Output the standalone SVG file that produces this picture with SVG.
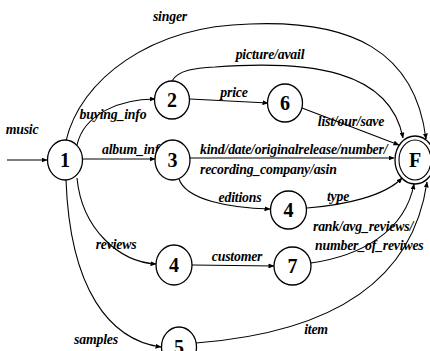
<svg xmlns="http://www.w3.org/2000/svg" width="430" height="351" viewBox="0 0 430 351">
  <style>
    .edge { fill: none; stroke: #000; stroke-width: 1.1; marker-end: url(#arrow); }
    .node { fill: #fff; stroke: #000; stroke-width: 1.3; }
    .id { font-family: "Liberation Serif", "Times New Roman", serif; font-weight: bold; font-size: 20px; text-anchor: middle; fill: #000; }
    .lbl { font-family: "Liberation Serif", "Times New Roman", serif; font-weight: bold; font-style: italic; font-size: 13.8px; fill: #000; letter-spacing: -0.2px; }
    .mid { text-anchor: middle; }
  </style>
  <defs>
    <marker id="arrow" markerWidth="6" markerHeight="5" refX="5.5" refY="2.5" orient="auto" markerUnits="userSpaceOnUse">
      <path d="M0,0 L6,2.5 L0,5 Z" fill="#000"/>
    </marker>
  </defs>
  <rect width="430" height="351" fill="#fff"/>

  <g id="connectors">
    <!-- entry -->
    <path class="edge" d="M7,160 L47,160"/>
    <text class="lbl mid" x="22" y="134">music</text>
    <!-- 1 -> F : singer -->
    <path class="edge" d="M66,141 C 80,80 150,26 250,24 C 350,20 415,50 426,139"/>
    <text class="lbl mid" x="170" y="21">singer</text>
    <!-- 1 -> 2 : buying_info -->
    <path class="edge" d="M77,145 C 84,114 120,99 155,99"/>
    <text class="lbl mid" x="113" y="119">buying_info</text>
    <!-- 2 -> F : picture/avail -->
    <path class="edge" d="M172,81 C 178,70 195,68 215,67 C 310,60 390,70 403,138"/>
    <text class="lbl mid" x="270" y="59">picture/avail</text>
    <!-- 2 -> 6 : price -->
    <path class="edge" d="M190,99 L268,103"/>
    <text class="lbl mid" x="234" y="97">price</text>
    <!-- 6 -> F : list/our/save -->
    <path class="edge" d="M302,108 L399,145"/>
    <text class="lbl mid" x="351" y="126">list/our/save</text>
    <!-- 1 -> 3 : album_info (partly under node 3) -->
    <text class="lbl" x="102" y="154">album_info</text>
    <path class="edge" d="M83,159 L155,159"/>
    <!-- 3 -> F : kind/date/... -->
    <path class="edge" d="M190,158 L394,158"/>
    <text class="lbl" x="200" y="154">kind/date/originalrelease/number/</text>
    <text class="lbl" x="200" y="174">recording_company/asin</text>
    <!-- 3 -> 4 : editions -->
    <path class="edge" d="M179,179 C 186,200 230,208 270,209"/>
    <text class="lbl mid" x="240" y="202">editions</text>
    <!-- 4 -> F : type -->
    <path class="edge" d="M307,208 C 345,205 385,196 402,178"/>
    <text class="lbl mid" x="338" y="201">type</text>
    <!-- 1 -> 4 : reviews -->
    <path class="edge" d="M77,178 C 82,230 120,262 156,264"/>
    <text class="lbl mid" x="116" y="249">reviews</text>
    <!-- 4 -> 7 : customer -->
    <path class="edge" d="M192,265 L274,266"/>
    <text class="lbl mid" x="237" y="261">customer</text>
    <!-- 7 -> F : rank/avg_reviews/number_of_reviwes -->
    <path class="edge" d="M311,263 C 360,256 405,232 414,184"/>
    <text class="lbl" x="313" y="231">rank/avg_reviews/</text>
    <text class="lbl" x="315" y="250">number_of_reviwes</text>
    <!-- 1 -> 5 : samples -->
    <path class="edge" d="M66,180 C 70,290 110,340 161,347"/>
    <text class="lbl mid" x="96" y="344">samples</text>
    <!-- 5 -> F : item -->
    <path class="edge" d="M196,343 C 300,335 410,300 427,182"/>
    <text class="lbl mid" x="316" y="334">item</text>
  </g>

  <g id="n1"><ellipse class="node" cx="65" cy="160" rx="17.5" ry="20"/><text class="id" x="65" y="167">1</text></g>
  <g id="n2"><ellipse class="node" cx="172" cy="100" rx="17.5" ry="19"/><text class="id" x="172" y="107">2</text></g>
  <g id="n3"><ellipse class="node" cx="172.5" cy="160" rx="17.5" ry="20"/><text class="id" x="172.5" y="167">3</text></g>
  <g id="n6"><ellipse class="node" cx="285" cy="103" rx="17.5" ry="19"/><text class="id" x="285" y="110">6</text></g>
  <g id="n4a"><ellipse class="node" cx="288.5" cy="210" rx="18" ry="19"/><text class="id" x="288.5" y="217">4</text></g>
  <g id="n4b"><ellipse class="node" cx="174" cy="265" rx="18" ry="20"/><text class="id" x="174" y="272">4</text></g>
  <g id="n7"><ellipse class="node" cx="292.5" cy="266" rx="18.5" ry="19"/><text class="id" x="292.5" y="273">7</text></g>
  <g id="n5"><ellipse class="node" cx="179" cy="347" rx="17.5" ry="20"/><text class="id" x="179" y="354">5</text></g>
  <g id="nF">
    <ellipse class="node" cx="415" cy="160" rx="20" ry="24"/>
    <ellipse fill="none" stroke="#000" stroke-width="1.1" cx="415" cy="160" rx="16" ry="20"/>
    <text class="id" x="415" y="167">F</text>
  </g>
</svg>
